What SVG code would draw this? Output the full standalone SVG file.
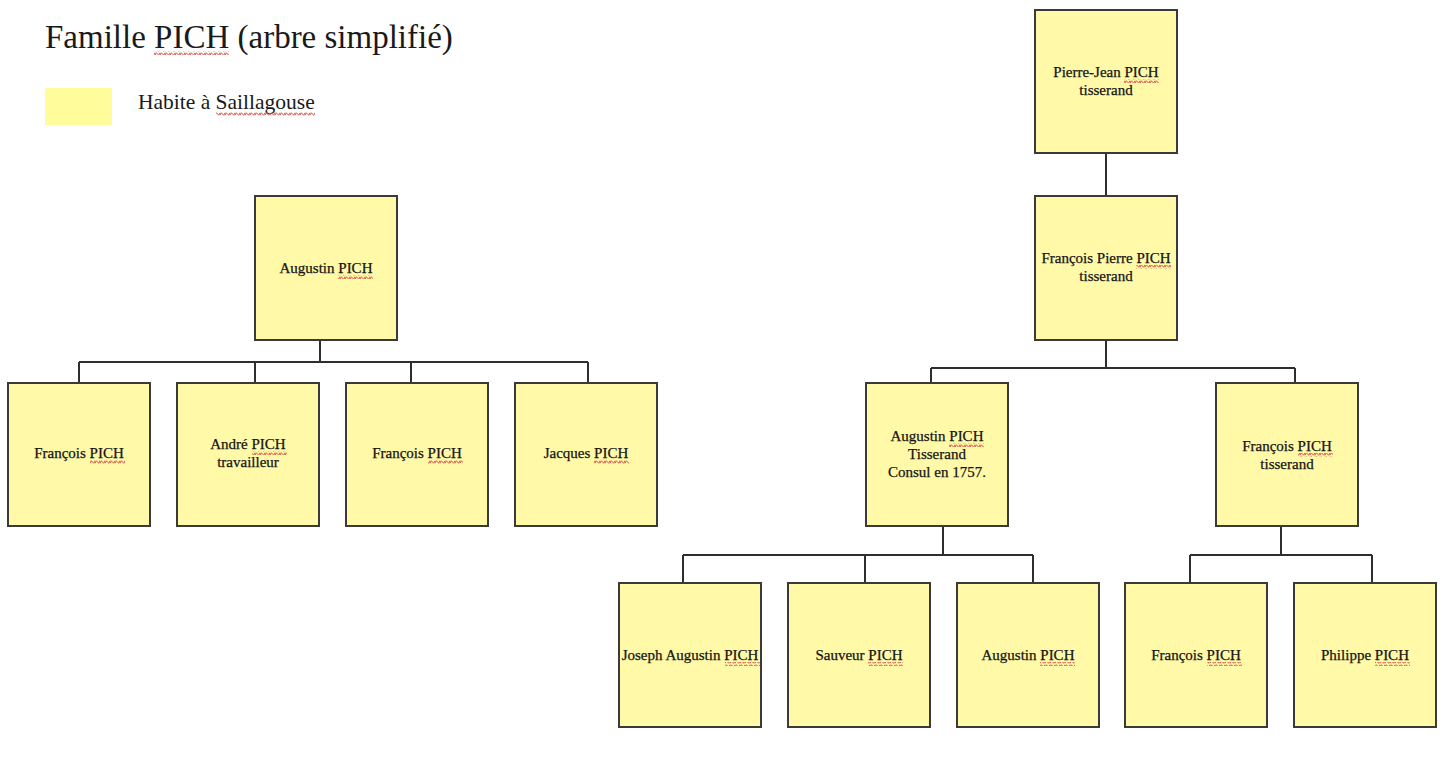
<svg xmlns="http://www.w3.org/2000/svg" width="1451" height="774" viewBox="0 0 1451 774">
<defs>
<style>
.box{fill:#fff9a8;stroke:#3a3a3a;stroke-width:2}
.t{font-family:"Liberation Serif","Times New Roman",serif;font-size:15px;fill:#141414;stroke:#141414;stroke-width:0.25;text-anchor:middle}
.conn{fill:none;stroke:#2e2e2e;stroke-width:2}
.sq{fill:url(#wave)}
</style>
<pattern id="wave" width="5" height="4" patternUnits="userSpaceOnUse">
<path d="M0,3.3 L1.25,0.7 L3.75,3.3 L5,0.7" fill="none" stroke="#d9534a" stroke-width="1"/>
</pattern>
</defs>
<rect width="1451" height="774" fill="#ffffff"/>

<g id="title">
<text x="45" y="48" font-family="'Liberation Serif','Times New Roman',serif" font-size="33" fill="#1a1a1a">Famille PICH (arbre simplifié)</text>
<rect class="sq" x="154" y="51" width="75" height="4"/>
</g>

<g id="legend">
<rect x="45" y="88" width="67" height="37" fill="#fffc9c"/>
<text x="138" y="109" font-family="'Liberation Serif','Times New Roman',serif" font-size="21.5" fill="#1a1a1a">Habite à Saillagouse</text>
<rect class="sq" x="216" y="112" width="99" height="4"/>
</g>

<g id="connectors">
<path class="conn" d="M320,340 V362 M79,362 H588 M79,362 V383 M255,362 V383 M411,362 V383 M588,362 V383"/>
<path class="conn" d="M1106,153 V196 M1106,340 V368 M931,368 H1295 M931,368 V383 M1295,368 V383"/>
<path class="conn" d="M943,526 V555 M683,555 H1033 M683,555 V583 M865,555 V583 M1033,555 V583"/>
<path class="conn" d="M1281,526 V555 M1190,555 H1372 M1190,555 V583 M1372,555 V583"/>
</g>

<g id="augustin-left">
<rect class="box" x="255" y="196" width="142" height="144"/>
<text class="t" x="326" y="273">Augustin PICH</text>
<rect class="sq" x="338" y="275" width="35" height="4"/>
</g>

<g id="francois-1">
<rect class="box" x="8" y="383" width="142" height="143"/>
<text class="t" x="79" y="458">François PICH</text>
<rect class="sq" x="90" y="460" width="35" height="4"/>
</g>

<g id="andre">
<rect class="box" x="177" y="383" width="142" height="143"/>
<text class="t" x="248" y="449">André PICH</text>
<text class="t" x="248" y="467">travailleur</text>
<rect class="sq" x="252" y="451" width="35" height="4"/>
</g>

<g id="francois-2">
<rect class="box" x="346" y="383" width="142" height="143"/>
<text class="t" x="417" y="458">François PICH</text>
<rect class="sq" x="428" y="460" width="35" height="4"/>
</g>

<g id="jacques">
<rect class="box" x="515" y="383" width="142" height="143"/>
<text class="t" x="586" y="458">Jacques PICH</text>
<rect class="sq" x="594" y="460" width="35" height="4"/>
</g>

<g id="pierre-jean">
<rect class="box" x="1035" y="10" width="142" height="143"/>
<text class="t" x="1106" y="77">Pierre-Jean PICH</text>
<text class="t" x="1106" y="95">tisserand</text>
<rect class="sq" x="1124" y="79" width="35" height="4"/>
</g>

<g id="francois-pierre">
<rect class="box" x="1035" y="196" width="142" height="144"/>
<text class="t" x="1106" y="263">François Pierre PICH</text>
<text class="t" x="1106" y="281">tisserand</text>
<rect class="sq" x="1136" y="265" width="35" height="4"/>
</g>

<g id="augustin-consul">
<rect class="box" x="866" y="383" width="142" height="143"/>
<text class="t" x="937" y="441">Augustin PICH</text>
<text class="t" x="937" y="459">Tisserand</text>
<text class="t" x="937" y="477">Consul en 1757.</text>
<rect class="sq" x="949" y="443" width="35" height="4"/>
</g>

<g id="francois-tisserand">
<rect class="box" x="1216" y="383" width="142" height="143"/>
<text class="t" x="1287" y="451">François PICH</text>
<text class="t" x="1287" y="469">tisserand</text>
<rect class="sq" x="1298" y="453" width="35" height="4"/>
</g>

<g id="joseph-augustin">
<rect class="box" x="619" y="583" width="142" height="144"/>
<text class="t" x="690" y="660">Joseph Augustin PICH</text>
<rect class="sq" x="725" y="662" width="35" height="4"/>
</g>

<g id="sauveur">
<rect class="box" x="788" y="583" width="142" height="144"/>
<text class="t" x="859" y="660">Sauveur PICH</text>
<rect class="sq" x="868" y="662" width="35" height="4"/>
</g>

<g id="augustin-2">
<rect class="box" x="957" y="583" width="142" height="144"/>
<text class="t" x="1028" y="660">Augustin PICH</text>
<rect class="sq" x="1040" y="662" width="35" height="4"/>
</g>

<g id="francois-3">
<rect class="box" x="1125" y="583" width="142" height="144"/>
<text class="t" x="1196" y="660">François PICH</text>
<rect class="sq" x="1207" y="662" width="35" height="4"/>
</g>

<g id="philippe">
<rect class="box" x="1294" y="583" width="142" height="144"/>
<text class="t" x="1365" y="660">Philippe PICH</text>
<rect class="sq" x="1375" y="662" width="35" height="4"/>
</g>
</svg>
